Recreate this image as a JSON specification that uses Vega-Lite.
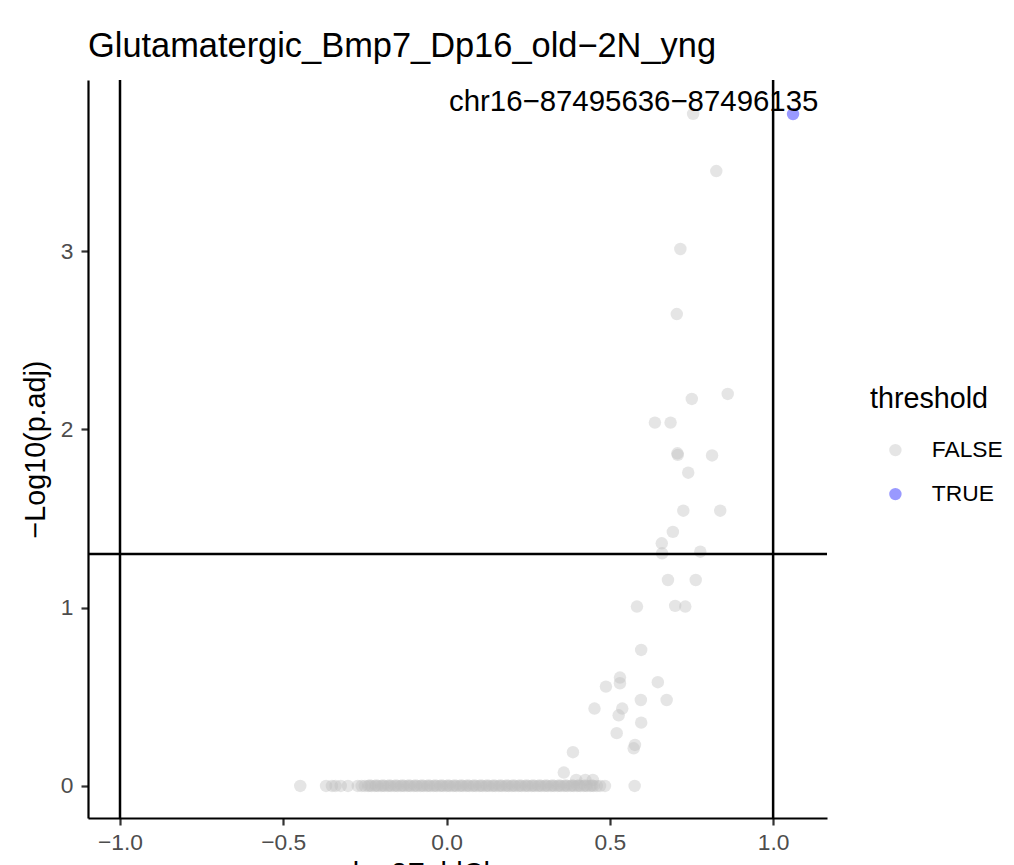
{
  "$schema": "https://vega.github.io/schema/vega-lite/v6.json",
  "autosize": "none",
  "width": 739,
  "height": 738,
  "padding": {"left": 88, "top": 80, "right": 187, "bottom": 47},
  "background": "white",
  "config": {
    "view": {"stroke": null},
    "font": "Liberation Sans",
    "axis": {"grid": false, "domainColor": "black", "domainWidth": 2.2, "tickColor": "#333333", "tickWidth": 2.2, "tickSize": 7, "labelColor": "#4D4D4D", "labelFontSize": 22.8, "labelFont": "Liberation Sans", "titleFont": "Liberation Sans", "titleFontSize": 28.7, "titleFontWeight": "normal", "titleColor": "black"}
  },
  "title": {"text": "Glutamatergic_Bmp7_Dp16_old−2N_yng", "anchor": "start", "frame": "group", "fontSize": 34.4, "font": "Liberation Sans", "fontWeight": "normal", "color": "black", "offset": 14},
  "datasets": {
    "points": [
      {"lfc": 1.061, "nlp": 3.769, "threshold": "TRUE"},
      {"lfc": 0.755, "nlp": 3.77, "threshold": "FALSE"},
      {"lfc": 0.826, "nlp": 3.449, "threshold": "FALSE"},
      {"lfc": 0.716, "nlp": 3.012, "threshold": "FALSE"},
      {"lfc": 0.705, "nlp": 2.647, "threshold": "FALSE"},
      {"lfc": 0.861, "nlp": 2.199, "threshold": "FALSE"},
      {"lfc": 0.751, "nlp": 2.171, "threshold": "FALSE"},
      {"lfc": 0.638, "nlp": 2.038, "threshold": "FALSE"},
      {"lfc": 0.686, "nlp": 2.038, "threshold": "FALSE"},
      {"lfc": 0.707, "nlp": 1.866, "threshold": "FALSE"},
      {"lfc": 0.708, "nlp": 1.857, "threshold": "FALSE"},
      {"lfc": 0.813, "nlp": 1.854, "threshold": "FALSE"},
      {"lfc": 0.740, "nlp": 1.757, "threshold": "FALSE"},
      {"lfc": 0.725, "nlp": 1.544, "threshold": "FALSE"},
      {"lfc": 0.838, "nlp": 1.544, "threshold": "FALSE"},
      {"lfc": 0.693, "nlp": 1.425, "threshold": "FALSE"},
      {"lfc": 0.659, "nlp": 1.361, "threshold": "FALSE"},
      {"lfc": 0.660, "nlp": 1.305, "threshold": "FALSE"},
      {"lfc": 0.777, "nlp": 1.314, "threshold": "FALSE"},
      {"lfc": 0.678, "nlp": 1.155, "threshold": "FALSE"},
      {"lfc": 0.763, "nlp": 1.155, "threshold": "FALSE"},
      {"lfc": 0.583, "nlp": 1.006, "threshold": "FALSE"},
      {"lfc": 0.700, "nlp": 1.010, "threshold": "FALSE"},
      {"lfc": 0.731, "nlp": 1.006, "threshold": "FALSE"},
      {"lfc": 0.596, "nlp": 0.763, "threshold": "FALSE"},
      {"lfc": 0.531, "nlp": 0.608, "threshold": "FALSE"},
      {"lfc": 0.531, "nlp": 0.576, "threshold": "FALSE"},
      {"lfc": 0.488, "nlp": 0.557, "threshold": "FALSE"},
      {"lfc": 0.647, "nlp": 0.582, "threshold": "FALSE"},
      {"lfc": 0.674, "nlp": 0.482, "threshold": "FALSE"},
      {"lfc": 0.595, "nlp": 0.482, "threshold": "FALSE"},
      {"lfc": 0.453, "nlp": 0.434, "threshold": "FALSE"},
      {"lfc": 0.538, "nlp": 0.434, "threshold": "FALSE"},
      {"lfc": 0.527, "nlp": 0.396, "threshold": "FALSE"},
      {"lfc": 0.596, "nlp": 0.355, "threshold": "FALSE"},
      {"lfc": 0.521, "nlp": 0.296, "threshold": "FALSE"},
      {"lfc": 0.577, "nlp": 0.230, "threshold": "FALSE"},
      {"lfc": 0.573, "nlp": 0.211, "threshold": "FALSE"},
      {"lfc": 0.387, "nlp": 0.189, "threshold": "FALSE"},
      {"lfc": 0.359, "nlp": 0.075, "threshold": "FALSE"},
      {"lfc": 0.397, "nlp": 0.034, "threshold": "FALSE"},
      {"lfc": 0.425, "nlp": 0.034, "threshold": "FALSE"},
      {"lfc": 0.448, "nlp": 0.034, "threshold": "FALSE"},
      {"lfc": 0.576, "nlp": 0, "threshold": "FALSE"},
      {"lfc": 0.485, "nlp": 0, "threshold": "FALSE"},
      {"lfc": -0.448, "nlp": 0, "threshold": "FALSE"},
      {"lfc": -0.369, "nlp": 0, "threshold": "FALSE"},
      {"lfc": -0.351, "nlp": 0, "threshold": "FALSE"},
      {"lfc": -0.340, "nlp": 0, "threshold": "FALSE"},
      {"lfc": -0.324, "nlp": 0, "threshold": "FALSE"},
      {"lfc": -0.302, "nlp": 0, "threshold": "FALSE"},
      {"lfc": -0.272, "nlp": 0, "threshold": "FALSE"},
      {"lfc": -0.26, "nlp": 0, "threshold": "FALSE"},
      {"lfc": -0.25, "nlp": 0, "threshold": "FALSE"},
      {"lfc": -0.24, "nlp": 0, "threshold": "FALSE"},
      {"lfc": -0.23, "nlp": 0, "threshold": "FALSE"},
      {"lfc": -0.22, "nlp": 0, "threshold": "FALSE"},
      {"lfc": -0.21, "nlp": 0, "threshold": "FALSE"},
      {"lfc": -0.20, "nlp": 0, "threshold": "FALSE"},
      {"lfc": -0.19, "nlp": 0, "threshold": "FALSE"},
      {"lfc": -0.18, "nlp": 0, "threshold": "FALSE"},
      {"lfc": -0.17, "nlp": 0, "threshold": "FALSE"},
      {"lfc": -0.16, "nlp": 0, "threshold": "FALSE"},
      {"lfc": -0.15, "nlp": 0, "threshold": "FALSE"},
      {"lfc": -0.14, "nlp": 0, "threshold": "FALSE"},
      {"lfc": -0.13, "nlp": 0, "threshold": "FALSE"},
      {"lfc": -0.12, "nlp": 0, "threshold": "FALSE"},
      {"lfc": -0.11, "nlp": 0, "threshold": "FALSE"},
      {"lfc": -0.10, "nlp": 0, "threshold": "FALSE"},
      {"lfc": -0.09, "nlp": 0, "threshold": "FALSE"},
      {"lfc": -0.08, "nlp": 0, "threshold": "FALSE"},
      {"lfc": -0.07, "nlp": 0, "threshold": "FALSE"},
      {"lfc": -0.06, "nlp": 0, "threshold": "FALSE"},
      {"lfc": -0.05, "nlp": 0, "threshold": "FALSE"},
      {"lfc": -0.04, "nlp": 0, "threshold": "FALSE"},
      {"lfc": -0.03, "nlp": 0, "threshold": "FALSE"},
      {"lfc": -0.02, "nlp": 0, "threshold": "FALSE"},
      {"lfc": -0.01, "nlp": 0, "threshold": "FALSE"},
      {"lfc": 0.00, "nlp": 0, "threshold": "FALSE"},
      {"lfc": 0.01, "nlp": 0, "threshold": "FALSE"},
      {"lfc": 0.02, "nlp": 0, "threshold": "FALSE"},
      {"lfc": 0.03, "nlp": 0, "threshold": "FALSE"},
      {"lfc": 0.04, "nlp": 0, "threshold": "FALSE"},
      {"lfc": 0.05, "nlp": 0, "threshold": "FALSE"},
      {"lfc": 0.06, "nlp": 0, "threshold": "FALSE"},
      {"lfc": 0.07, "nlp": 0, "threshold": "FALSE"},
      {"lfc": 0.08, "nlp": 0, "threshold": "FALSE"},
      {"lfc": 0.09, "nlp": 0, "threshold": "FALSE"},
      {"lfc": 0.10, "nlp": 0, "threshold": "FALSE"},
      {"lfc": 0.11, "nlp": 0, "threshold": "FALSE"},
      {"lfc": 0.12, "nlp": 0, "threshold": "FALSE"},
      {"lfc": 0.13, "nlp": 0, "threshold": "FALSE"},
      {"lfc": 0.14, "nlp": 0, "threshold": "FALSE"},
      {"lfc": 0.15, "nlp": 0, "threshold": "FALSE"},
      {"lfc": 0.16, "nlp": 0, "threshold": "FALSE"},
      {"lfc": 0.17, "nlp": 0, "threshold": "FALSE"},
      {"lfc": 0.18, "nlp": 0, "threshold": "FALSE"},
      {"lfc": 0.19, "nlp": 0, "threshold": "FALSE"},
      {"lfc": 0.20, "nlp": 0, "threshold": "FALSE"},
      {"lfc": 0.21, "nlp": 0, "threshold": "FALSE"},
      {"lfc": 0.22, "nlp": 0, "threshold": "FALSE"},
      {"lfc": 0.23, "nlp": 0, "threshold": "FALSE"},
      {"lfc": 0.24, "nlp": 0, "threshold": "FALSE"},
      {"lfc": 0.25, "nlp": 0, "threshold": "FALSE"},
      {"lfc": 0.26, "nlp": 0, "threshold": "FALSE"},
      {"lfc": 0.27, "nlp": 0, "threshold": "FALSE"},
      {"lfc": 0.28, "nlp": 0, "threshold": "FALSE"},
      {"lfc": 0.29, "nlp": 0, "threshold": "FALSE"},
      {"lfc": 0.30, "nlp": 0, "threshold": "FALSE"},
      {"lfc": 0.31, "nlp": 0, "threshold": "FALSE"},
      {"lfc": 0.32, "nlp": 0, "threshold": "FALSE"},
      {"lfc": 0.33, "nlp": 0, "threshold": "FALSE"},
      {"lfc": 0.34, "nlp": 0, "threshold": "FALSE"},
      {"lfc": 0.35, "nlp": 0, "threshold": "FALSE"},
      {"lfc": 0.36, "nlp": 0, "threshold": "FALSE"},
      {"lfc": 0.37, "nlp": 0, "threshold": "FALSE"},
      {"lfc": 0.38, "nlp": 0, "threshold": "FALSE"},
      {"lfc": 0.39, "nlp": 0, "threshold": "FALSE"},
      {"lfc": 0.40, "nlp": 0, "threshold": "FALSE"},
      {"lfc": 0.41, "nlp": 0, "threshold": "FALSE"},
      {"lfc": 0.42, "nlp": 0, "threshold": "FALSE"},
      {"lfc": 0.43, "nlp": 0, "threshold": "FALSE"},
      {"lfc": 0.44, "nlp": 0, "threshold": "FALSE"},
      {"lfc": 0.45, "nlp": 0, "threshold": "FALSE"},
      {"lfc": 0.46, "nlp": 0, "threshold": "FALSE"},
      {"lfc": 0.47, "nlp": 0, "threshold": "FALSE"},
      {"lfc": -0.235, "nlp": 0.002, "threshold": "FALSE"},
      {"lfc": -0.215, "nlp": 0.002, "threshold": "FALSE"},
      {"lfc": -0.195, "nlp": 0.002, "threshold": "FALSE"},
      {"lfc": -0.175, "nlp": 0.002, "threshold": "FALSE"},
      {"lfc": -0.155, "nlp": 0.002, "threshold": "FALSE"},
      {"lfc": -0.135, "nlp": 0.002, "threshold": "FALSE"},
      {"lfc": -0.115, "nlp": 0.002, "threshold": "FALSE"},
      {"lfc": -0.095, "nlp": 0.002, "threshold": "FALSE"},
      {"lfc": -0.075, "nlp": 0.002, "threshold": "FALSE"},
      {"lfc": -0.055, "nlp": 0.002, "threshold": "FALSE"},
      {"lfc": -0.035, "nlp": 0.002, "threshold": "FALSE"},
      {"lfc": -0.015, "nlp": 0.002, "threshold": "FALSE"},
      {"lfc": 0.005, "nlp": 0.002, "threshold": "FALSE"},
      {"lfc": 0.025, "nlp": 0.002, "threshold": "FALSE"},
      {"lfc": 0.045, "nlp": 0.002, "threshold": "FALSE"},
      {"lfc": 0.065, "nlp": 0.002, "threshold": "FALSE"},
      {"lfc": 0.085, "nlp": 0.002, "threshold": "FALSE"},
      {"lfc": 0.105, "nlp": 0.002, "threshold": "FALSE"},
      {"lfc": 0.125, "nlp": 0.002, "threshold": "FALSE"},
      {"lfc": 0.145, "nlp": 0.002, "threshold": "FALSE"},
      {"lfc": 0.165, "nlp": 0.002, "threshold": "FALSE"},
      {"lfc": 0.185, "nlp": 0.002, "threshold": "FALSE"},
      {"lfc": 0.205, "nlp": 0.002, "threshold": "FALSE"},
      {"lfc": 0.225, "nlp": 0.002, "threshold": "FALSE"},
      {"lfc": 0.245, "nlp": 0.002, "threshold": "FALSE"},
      {"lfc": 0.265, "nlp": 0.002, "threshold": "FALSE"},
      {"lfc": 0.285, "nlp": 0.002, "threshold": "FALSE"},
      {"lfc": 0.305, "nlp": 0.002, "threshold": "FALSE"},
      {"lfc": 0.325, "nlp": 0.002, "threshold": "FALSE"},
      {"lfc": 0.345, "nlp": 0.002, "threshold": "FALSE"},
      {"lfc": 0.365, "nlp": 0.002, "threshold": "FALSE"},
      {"lfc": 0.385, "nlp": 0.002, "threshold": "FALSE"},
      {"lfc": 0.405, "nlp": 0.002, "threshold": "FALSE"},
      {"lfc": 0.425, "nlp": 0.002, "threshold": "FALSE"},
      {"lfc": 0.445, "nlp": 0.002, "threshold": "FALSE"}
    ],
    "vlines": [{"v": -1}, {"v": 1}],
    "hlines": [{"h": 1.301}],
    "labels": [{"lfc": 0.573, "nlp": 3.836, "label": "chr16−87495636−87496135"}]
  },
  "layer": [
    {
      "data": {"name": "points"},
      "mark": {"type": "circle", "size": 155, "opacity": 0.4, "stroke": null},
      "encoding": {
        "x": {"field": "lfc", "type": "quantitative", "title": "log2FoldChange",
          "scale": {"domain": [-1.098, 1.165], "nice": false, "zero": false},
          "axis": {"values": [-1, -0.5, 0, 0.5, 1], "format": ".1f", "labelPadding": 6, "titlePadding": 6}},
        "y": {"field": "nlp", "type": "quantitative", "title": "−Log10(p.adj)",
          "scale": {"domain": [-0.18, 3.96], "nice": false, "zero": false},
          "axis": {"values": [0, 1, 2, 3], "format": "d", "labelPadding": 8, "titlePadding": 10}},
        "color": {"field": "threshold", "type": "nominal",
          "scale": {"domain": ["FALSE", "TRUE"], "range": ["#BEBEBE", "#0000FF"]},
          "legend": {"title": "threshold", "orient": "none", "legendX": 782, "legendY": 305,
            "padding": 0, "titleFontSize": 28.7, "titleFont": "Liberation Sans", "titleFontWeight": "normal", "titleColor": "black",
            "titlePadding": 25, "labelFontSize": 22.8, "labelFont": "Liberation Sans", "labelColor": "black",
            "labelOffset": 25, "symbolSize": 155, "symbolOpacity": 0.4, "symbolType": "circle", "symbolStrokeWidth": 0,
            "symbolOffset": 14, "rowPadding": 20}}
      }
    },
    {
      "data": {"name": "vlines"},
      "mark": {"type": "rule", "color": "black", "strokeWidth": 2.5},
      "encoding": {"x": {"field": "v", "type": "quantitative"}}
    },
    {
      "data": {"name": "hlines"},
      "mark": {"type": "rule", "color": "black", "strokeWidth": 2.5},
      "encoding": {"y": {"field": "h", "type": "quantitative"}}
    },
    {
      "data": {"name": "labels"},
      "mark": {"type": "text", "fontSize": 29.4, "font": "Liberation Sans", "color": "black", "baseline": "middle", "align": "center"},
      "encoding": {
        "x": {"field": "lfc", "type": "quantitative"},
        "y": {"field": "nlp", "type": "quantitative"},
        "text": {"field": "label"}
      }
    }
  ]
}
